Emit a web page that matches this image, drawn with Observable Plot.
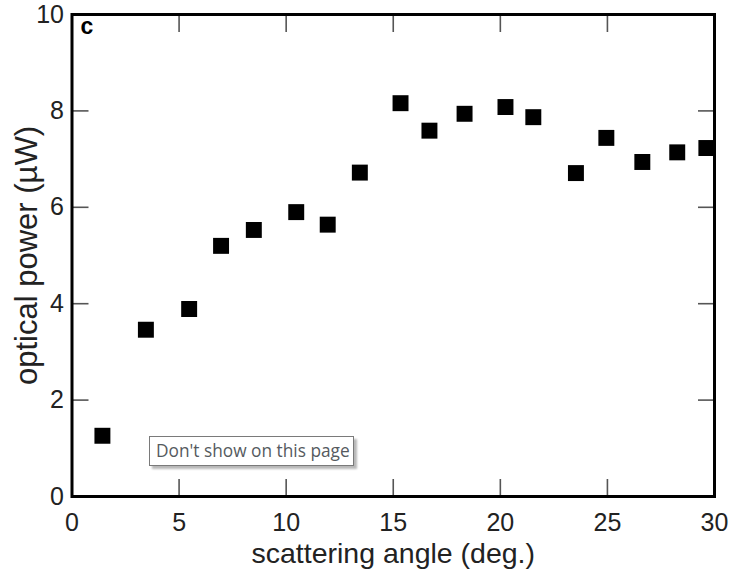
<!DOCTYPE html>
<html>
<head>
<meta charset="utf-8">
<script src="https://cdn.jsdelivr.net/npm/d3@7"></script>
<script src="https://cdn.jsdelivr.net/npm/@observablehq/plot@0.6"></script>
<style>
  html, body { margin: 0; padding: 0; background: #fff; }
  #wrap { position: relative; width: 734px; height: 571px; }
  #tip {
    position: absolute; left: 149px; top: 436px; width: 205px; height: 30px;
    box-sizing: border-box;
    border: 1px solid #7a7a7a; background: #fff; box-shadow: 3px 3px 2px rgba(0,0,0,0.28);
    font-family: "Open Sans", "Noto Sans", sans-serif; font-size: 17.3px; color: #555a60;
    line-height: 28px; padding-left: 6px; white-space: nowrap;
  }
</style>
</head>
<body>
<div id="wrap"></div>
<script>
// Data
const angle = [1.42, 3.45, 5.47, 6.96, 8.49, 10.47, 11.94, 13.44, 15.34, 16.69, 18.33, 20.24, 21.54, 23.53, 24.95, 26.63, 28.26, 29.62];
const power = [1.26, 3.46, 3.89, 5.20, 5.53, 5.90, 5.64, 6.72, 8.16, 7.59, 7.94, 8.08, 7.87, 6.71, 7.44, 6.94, 7.14, 7.23];
const xTicks = [0, 5, 10, 15, 20, 25, 30];
const yTicks = [0, 2, 4, 6, 8, 10];
const xTitle = "scattering angle (deg.)";
const yTitle = "optical power (\u00b5W)";
const panelLabel = "c";
const tipText = "Don't show on this page";

const data = angle.map((a, i) => ({angle: a, power: power[i]}));

const font = "'Liberation Sans', Arial, Helvetica, sans-serif";
const tickColor = "#555";

const chart = Plot.plot({
  width: 734,
  height: 571,
  marginLeft: 71.5,
  marginRight: 20,
  marginTop: 14,
  marginBottom: 75,
  style: {fontFamily: font, background: "#fff", color: "#222"},
  x: {domain: [0, 30]},
  y: {domain: [0, 10]},
  marks: [
    // inward ticks on all four sides
    Plot.axisX({ticks: xTicks, anchor: "bottom", tickSize: -17, fill: "none", stroke: tickColor, strokeWidth: 1.6, label: null}),
    Plot.axisX({ticks: xTicks, anchor: "top", tickSize: -17, fill: "none", stroke: tickColor, strokeWidth: 1.6, label: null}),
    Plot.axisY({ticks: yTicks, anchor: "left", tickSize: -17, fill: "none", stroke: tickColor, strokeWidth: 1.6, label: null}),
    Plot.axisY({ticks: yTicks, anchor: "right", tickSize: -17, fill: "none", stroke: tickColor, strokeWidth: 1.6, label: null}),
    // tick labels
    Plot.axisX({ticks: xTicks, anchor: "bottom", tickSize: 0, tickPadding: 17, fontSize: 25, fill: "#222", label: null}),
    Plot.axisY({ticks: yTicks, anchor: "left", tickSize: 0, tickPadding: 8, fontSize: 25, fill: "#222", label: null}),
    Plot.frame({stroke: "#000", strokeWidth: 3}),
    Plot.dot(data, {x: "angle", y: "power", symbol: "square", r: 9, fill: "#000", stroke: "none"}),
    // titles
    Plot.text([xTitle], {frameAnchor: "bottom", dy: 57, textAnchor: "middle", lineAnchor: "middle", fontSize: 28.5, fill: "#222"}),
    Plot.text([yTitle], {frameAnchor: "left", dx: -45, rotate: -90, textAnchor: "middle", lineAnchor: "middle", fontSize: 31, fill: "#222"}),
    Plot.text([panelLabel], {frameAnchor: "top-left", dx: 8.5, dy: 12.6, textAnchor: "start", lineAnchor: "middle", fontSize: 23, fontWeight: "bold", fill: "#000"})
  ]
});

const wrap = document.getElementById("wrap");
wrap.appendChild(chart);
const tip = document.createElement("div");
tip.id = "tip";
tip.textContent = tipText;
wrap.appendChild(tip);
</script>
</body>
</html>
